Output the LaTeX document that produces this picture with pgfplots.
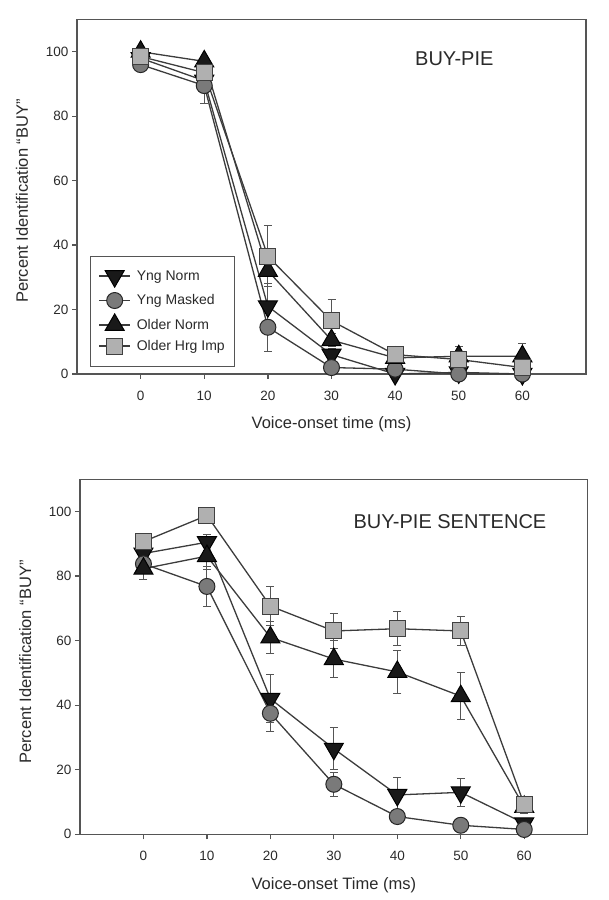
\documentclass[border=0pt]{standalone}
\usepackage{pgfplots}
\pgfplotsset{compat=1.18}
\usepackage{fontspec}
\setmainfont{Liberation Sans}
\definecolor{axgray}{HTML}{555555}
\definecolor{lngray}{HTML}{3C3C3C}
\definecolor{circfill}{HTML}{7A7A7A}
\definecolor{sqfill}{HTML}{B0B0B0}
\definecolor{txt}{HTML}{2A2A2A}
\pgfplotsset{
  myaxis/.style={
    scale only axis,
    xmin=-10, xmax=70, ymin=0, ymax=110,
    xtick={0,10,20,30,40,50,60}, ytick={0,20,40,60,80,100},
    tick pos=left, tick align=outside, major tick length=5pt,
    axis line style={axgray, line width=1.3pt},
    every tick/.style={axgray, line width=1.3pt},
    /pgf/number format/assume math mode=true,
    ticklabel style={font=\fontsize{13.5}{15}\selectfont, color=txt},
    xticklabel style={yshift=-8.5pt},
    label style={font=\fontsize{16.5}{18}\selectfont, color=txt},
    clip=false,
    legend cell align=left,
    legend image code/.code={\draw[mark repeat=2,mark phase=2,##1] plot coordinates {(0pt,0pt) (15.5pt,0pt) (31pt,0pt)};},
  },
  eb/.style={
    error bars/y dir=both, error bars/y explicit,
    error bars/error bar style={axgray, line width=1pt, solid},
    error bars/error mark options={rotate=90, mark size=4pt, axgray, line width=1pt},
  },
  ynorm/.style={eb, lngray, line width=1.3pt, mark=triangle*, mark size=11pt,
    mark options={rotate=180, fill=black!90, draw=black, line width=1pt, solid}},
  ymask/.style={eb, lngray, line width=1.3pt, mark=*, mark size=8pt,
    mark options={fill=circfill, draw=black!85, line width=1pt, solid}},
  onorm/.style={eb, lngray, line width=1.3pt, mark=triangle*, mark size=11pt,
    mark options={fill=black!90, draw=black, line width=1pt, solid}},
  ohrg/.style={eb, lngray, line width=1.3pt, mark=square*, mark size=8pt,
    mark options={fill=sqfill, draw=black!75, line width=1pt, solid}},
}
\begin{document}
\begin{tikzpicture}
\path[use as bounding box] (0pt,0pt) rectangle (609pt,900pt);
% ---------------- top panel ----------------
\begin{axis}[myaxis,
  at={(77pt,526pt)}, anchor=south west,
  width=509pt, height=354.5pt,
  xlabel={Voice-onset time (ms)},
  ylabel={Percent Identification ``BUY''},
  xlabel style={at={(axis description cs:0.5,-0.141)}, anchor=center},
  ylabel style={at={(axis description cs:-0.108,0.488)}, anchor=center},
  legend style={at={(axis description cs:0.0255,0.0206)}, anchor=south west,
    draw=axgray, line width=1.1pt, font=\fontsize{14}{16}\selectfont,
    text=txt, row sep=5.4pt, column sep=4pt, inner xsep=8pt, inner ysep=12pt},
]
\addplot[ynorm] coordinates {(0,98) (10,91) (20,21) +- (0,6) (30,6) +- (0,2) (40,0) (50,0.5) (60,0)};
\addlegendentry{Yng Norm}
\addplot[ymask] coordinates {(0,96) (10,89.5) +- (0,5.5) (20,14.5) +- (0,7.5) (30,2) (40,1.5) (50,0) (60,0)};
\addlegendentry{Yng Masked}
\addplot[onorm] coordinates {(0,100) (10,97) (20,32) +- (0,4) (30,10.5) +- (0,2) (40,5) (50,5.5) +- (0,3) (60,5.5) +- (0,4)};
\addlegendentry{Older Norm}
\addplot[ohrg] coordinates {(0,98.5) (10,93.5) (20,36.5) +- (0,9.5) (30,16.5) +- (0,6.5) (40,6) +- (0,2.5) (50,4.5) +- (0,2.5) (60,2)};
\addlegendentry{Older Hrg Imp}
\node[font=\fontsize{20}{22}\selectfont, text=txt] at (axis cs:49.3,97.9) {BUY-PIE};
\end{axis}
% ---------------- bottom panel ----------------
\begin{axis}[myaxis,
  at={(80pt,65.7pt)}, anchor=south west,
  width=507.7pt, height=355pt,
  xlabel={Voice-onset Time (ms)},
  ylabel={Percent Identification ``BUY''},
  xlabel style={at={(axis description cs:0.5,-0.143)}, anchor=center},
  ylabel style={at={(axis description cs:-0.108,0.485)}, anchor=center},
]
\addplot[ynorm] coordinates {(0,87) +- (0,1.5) (10,90.5) +- (0,2.5) (20,42) +- (0,7.5) (30,26.5) +- (0,6.5) (40,12.2) +- (0,5.3) (50,13) +- (0,4.3) (60,3.4) +- (0,1)};
\addplot[ymask] coordinates {(0,83.8) +- (0,2) (10,76.8) +- (0,6.2) (20,37.5) +- (0,5.5) (30,15.5) +- (0,3.8) (40,5.5) +- (0,1) (50,2.8) +- (0,0.5) (60,1.5) +- (0,0.5)};
\addplot[onorm] coordinates {(0,82.3) +- (0,3.3) (10,86.2) +- (0,4) (20,61) +- (0,5) (30,54.3) +- (0,5.7) (40,50.3) +- (0,6.7) (50,42.8) +- (0,7.3) (60,8.5) +- (0,2)};
\addplot[ohrg] coordinates {(0,90.7) +- (0,1.5) (10,98.8) +- (0,1) (20,70.7) +- (0,6) (30,63) +- (0,5.5) (40,63.7) +- (0,5.3) (50,63) +- (0,4.5) (60,9.2) +- (0,1.5)};
\node[font=\fontsize{20}{22}\selectfont, text=txt] at (axis cs:48.3,97) {BUY-PIE SENTENCE};
\end{axis}
\end{tikzpicture}
\end{document}
